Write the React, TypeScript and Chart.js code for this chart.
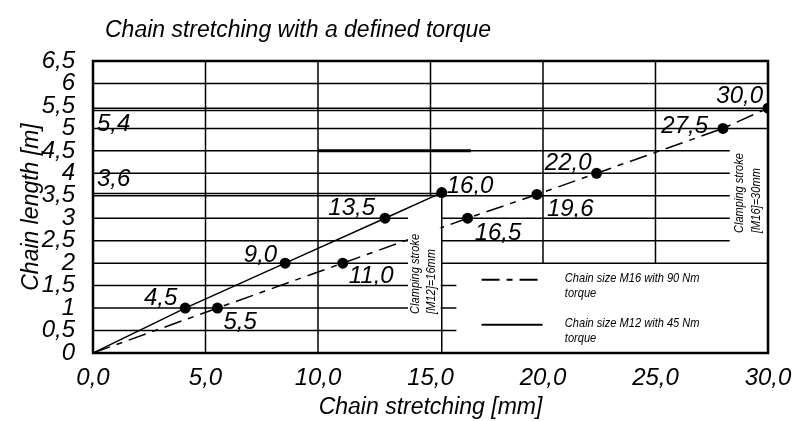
import React, { useEffect, useRef } from 'react';
import { Chart, registerables } from 'chart.js';

Chart.register(...registerables);

// ---------- data ----------
const chartTitle = 'Chain stretching with a defined torque';
const xAxisTitle = 'Chain stretching [mm]';
const yAxisTitle = 'Chain length [m]';

const m16Legend = ['Chain size M16 with 90 Nm', 'torque'];
const m16Stretch = [0, 5.53, 11.1, 16.65, 19.73, 22.38, 28.0, 30.0];
const m16Length = [0, 1, 2, 3, 3.53, 4, 5, 5.45];
const m16Labels = ['', '5,5', '11,0', '16,5', '19,6', '22,0', '27,5', '30,0'];

const m12Legend = ['Chain size M12 with 45 Nm', 'torque'];
const m12Stretch = [0, 4.1, 8.54, 12.98, 15.5];
const m12Length = [0, 1, 2, 3, 3.57];
const m12Labels = ['', '4,5', '9,0', '13,5', '16,0'];

const xTicks = [0, 5, 10, 15, 20, 25, 30];
const yTicks = [0, 0.5, 1, 1.5, 2, 2.5, 3, 3.5, 4, 4.5, 5, 5.5, 6, 6.5];

const lengthMarks = [5.4, 3.6];
const lengthMarkLabels = ['5,4', '3,6'];

const clampM12Text = ['Clamping stroke', '[M12]=16mm'];
const clampM16Text = ['Clamping stroke', '[M16]=30mm'];

// grid segments in data units [x1, y1, x2, y2]
const gridSegments = [
  [0, 6, 30, 6], [0, 5.45, 30, 5.45], [0, 5.4, 30, 5.4], [0, 5, 30, 5],
  [0, 4.5, 28.3, 4.5], [0, 4, 28.3, 4], [0, 3.55, 15.5, 3.55], [0, 3.5, 28.3, 3.5],
  [0, 3, 14, 3], [15.5, 3, 28.3, 3], [0, 2.5, 14, 2.5], [15.5, 2.5, 28.3, 2.5],
  [0, 2, 14, 2], [15.5, 2, 30, 2],
  [0, 1.5, 16.15, 1.5], [0, 1, 16.15, 1], [0, 0.5, 16.15, 0.5],
  [5, 0, 5, 6.5], [10, 0, 10, 6.5], [15, 3.5, 15, 6.5], [15.5, 0, 15.5, 3.57],
  [20, 2, 20, 6.5], [25, 2, 25, 6.5],
];
const thickSegments = [[10, 4.5, 16.8, 4.5]];

// ---------- styles ----------
const FONT = "'Liberation Sans', Arial, Helvetica, sans-serif";
const NARROW_SCALE = 0.82;
const M16_DASH = [18, 7, 6, 7];

const m12Place = [null, [-8, -3, 'right'], [-8, -1, 'right'], [-10, -3, 'right'], [5, 0, 'left']];
const m16Place = [null, [6, 21, 'left'], [6, 20, 'left'], [7, 22, 'left'], [10, 22, 'left'],
  [-5, -3, 'right'], [-15, 5, 'right'], [-5, -5, 'right']];
const markPlace = [21, -5];

const fmtX = (v: number) => v.toFixed(1).replace('.', ',');
const fmtY = (v: number) => (Number.isInteger(v) ? String(v) : String(v).replace('.', ','));

const drawPlugin = {
  id: 'customDraw',
  beforeDatasetsDraw(chart: any) {
    const { ctx, chartArea: a, scales } = chart;
    const x = scales.x, y = scales.y;
    ctx.save();
    ctx.strokeStyle = '#000';
    ctx.lineCap = 'butt';
    ctx.lineWidth = 1.5;
    for (const s of gridSegments) {
      ctx.beginPath();
      ctx.moveTo(x.getPixelForValue(s[0]), y.getPixelForValue(s[1]));
      ctx.lineTo(x.getPixelForValue(s[2]), y.getPixelForValue(s[3]));
      ctx.stroke();
    }
    ctx.lineWidth = 3;
    for (const s of thickSegments) {
      ctx.beginPath();
      ctx.moveTo(x.getPixelForValue(s[0]), y.getPixelForValue(s[1]));
      ctx.lineTo(x.getPixelForValue(s[2]), y.getPixelForValue(s[3]));
      ctx.stroke();
    }
    ctx.lineWidth = 2.5;
    ctx.strokeRect(a.left, a.top, a.right - a.left, a.bottom - a.top);
    ctx.restore();
  },
  afterDatasetsDraw(chart: any) {
    const { ctx, scales } = chart;
    const x = scales.x, y = scales.y;
    ctx.save();
    // white box behind M12 clamp text
    const bx1 = x.getPixelForValue(14.0), bx2 = x.getPixelForValue(15.45);
    const by1 = y.getPixelForValue(2.8), by2 = y.getPixelForValue(0.8);
    ctx.fillStyle = '#fff';
    ctx.fillRect(bx1, by1, bx2 - bx1, by2 - by1);

    ctx.fillStyle = '#000';
    // clamp texts (rotated, condensed)
    const drawClamp = (lines: string[], ax: number, ay: number) => {
      ctx.font = `italic 13.5px ${FONT}`;
      ctx.textAlign = 'left';
      ctx.textBaseline = 'middle';
      lines.forEach((t, i) => {
        ctx.save();
        ctx.translate(x.getPixelForValue(ax) + i * 16.5, y.getPixelForValue(ay));
        ctx.rotate(-Math.PI / 2);
        ctx.scale(NARROW_SCALE, 1);
        ctx.fillText(t, 0, 0);
        ctx.restore();
      });
    };
    drawClamp(clampM12Text, 14.32, 0.87);
    drawClamp(clampM16Text, 28.74, 2.67);

    // data labels
    ctx.font = `italic 24px ${FONT}`;
    ctx.textBaseline = 'alphabetic';
    const drawLabels = (xs: number[], ys: number[], labels: string[], place: any[]) => {
      xs.forEach((xv, i) => {
        const p = place[i];
        if (!p || !labels[i]) return;
        ctx.textAlign = p[2];
        ctx.fillText(labels[i], x.getPixelForValue(xv) + p[0], y.getPixelForValue(ys[i]) + p[1]);
      });
    };
    drawLabels(m12Stretch, m12Length, m12Labels, m12Place);
    drawLabels(m16Stretch, m16Length, m16Labels, m16Place);

    // length marks
    ctx.textAlign = 'left';
    lengthMarks.forEach((v, i) => {
      ctx.fillText(lengthMarkLabels[i], x.getPixelForValue(0) + 4, y.getPixelForValue(v) + markPlace[i]);
    });

    // legend
    const ds = chart.data.datasets;
    const legendRows = [
      { lines: m16Legend, y: 1.63, dash: ds[0].borderDash },
      { lines: m12Legend, y: 0.63, dash: [] },
    ];
    legendRows.forEach((r) => {
      const py = y.getPixelForValue(r.y);
      ctx.save();
      ctx.lineWidth = 2;
      ctx.strokeStyle = '#000';
      ctx.setLineDash(r.dash);
      ctx.beginPath();
      ctx.moveTo(x.getPixelForValue(17.27), py);
      ctx.lineTo(x.getPixelForValue(19.98), py);
      ctx.stroke();
      ctx.restore();
      ctx.font = `italic 13.5px ${FONT}`;
      ctx.textAlign = 'left';
      ctx.textBaseline = 'middle';
      r.lines.forEach((t, i) => {
        ctx.save();
        ctx.translate(x.getPixelForValue(20.97), py - 1.5 + i * 15);
        ctx.scale(NARROW_SCALE, 1);
        ctx.fillText(t, 0, 0);
        ctx.restore();
      });
    });

    // title
    ctx.font = `italic 23px ${FONT}`;
    ctx.textAlign = 'left';
    ctx.textBaseline = 'alphabetic';
    ctx.fillText(chartTitle, 105, 37);
    ctx.restore();
  },
};

export default function App() {
  const ref = useRef<HTMLCanvasElement>(null);
  useEffect(() => {
    const canvas = ref.current!;
    const chart = new Chart(canvas, {
      type: 'scatter',
      data: {
        datasets: [
          {
            label: m16Legend.join(' '),
            data: m16Stretch.map((v, i) => ({ x: v, y: m16Length[i] })),
            showLine: true,
            borderColor: '#000',
            backgroundColor: '#000',
            borderWidth: 1.5,
            borderDash: M16_DASH,
            pointRadius: m16Stretch.map((_, i) => (i === 0 ? 0 : 5.5)),
            pointBorderWidth: 0,
          },
          {
            label: m12Legend.join(' '),
            data: m12Stretch.map((v, i) => ({ x: v, y: m12Length[i] })),
            showLine: true,
            borderColor: '#000',
            backgroundColor: '#000',
            borderWidth: 1.5,
            pointRadius: m12Stretch.map((_, i) => (i === 0 ? 0 : 5.5)),
            pointBorderWidth: 0,
          },
        ],
      },
      options: {
        animation: false,
        responsive: false,
        devicePixelRatio: 1,
        layout: { padding: { left: 0, top: 61, right: 26, bottom: 0 } },
        plugins: {
          legend: { display: false },
          tooltip: { enabled: false },
          title: { display: false },
        },
        scales: {
          x: {
            type: 'linear',
            min: 0,
            max: 30,
            grid: { display: false },
            border: { display: false },
            afterBuildTicks: (s: any) => { s.ticks = xTicks.map((v) => ({ value: v })); },
            afterFit: (s: any) => { s.height = 68; s.paddingLeft = 0; s.paddingRight = 0; },
            ticks: {
              autoSkip: false,
              maxRotation: 0,
              padding: 3,
              color: '#000',
              font: { family: FONT, size: 24, style: 'italic' },
              callback: (v: any) => fmtX(Number(v)),
            },
            title: {
              display: true,
              text: xAxisTitle,
              color: '#000',
              font: { family: FONT, size: 23, style: 'italic' },
              padding: { top: 0, bottom: 0 },
            },
          },
          y: {
            type: 'linear',
            min: 0,
            max: 6.5,
            grid: { display: false },
            border: { display: false },
            afterBuildTicks: (s: any) => { s.ticks = yTicks.map((v) => ({ value: v })); },
            afterFit: (s: any) => { s.width = 93; s.paddingTop = 0; s.paddingBottom = 0; },
            ticks: {
              autoSkip: false,
              padding: 10,
              color: '#000',
              font: { family: FONT, size: 24, style: 'italic' },
              callback: (v: any) => fmtY(Number(v)),
            },
            title: {
              display: true,
              text: yAxisTitle,
              color: '#000',
              font: { family: FONT, size: 23, style: 'italic' },
              padding: { top: 18, bottom: 0 },
            },
          },
        },
      },
      plugins: [drawPlugin],
    } as any);
    return () => chart.destroy();
  }, []);
  return (
    <div style={{ position: 'fixed', left: 0, top: 0, width: 794, height: 421, background: '#fff' }}>
      <canvas ref={ref} width={794} height={421} style={{ display: 'block', width: 794, height: 421 }} />
    </div>
  );
}
